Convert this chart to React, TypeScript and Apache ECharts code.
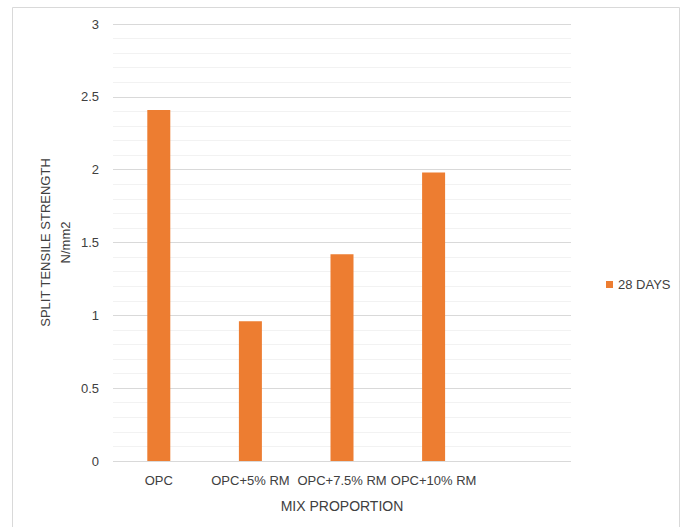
import React, { useEffect, useRef } from "react";
import * as echarts from "echarts";

const categories = ["OPC", "OPC+5% RM", "OPC+7.5% RM", "OPC+10% RM", ""];
const values28Days = [2.41, 0.96, 1.42, 1.98, null];
const seriesName = "28 DAYS";
const yMin = 0;
const yMax = 3;
const yInterval = 0.5;

export default function App() {
  const ref = useRef<HTMLDivElement>(null);
  useEffect(() => {
    if (!ref.current) return;
    const chart = echarts.init(ref.current, null, { renderer: "svg" });
    const font = "'Liberation Sans', 'Open Sans', sans-serif";
    chart.setOption({
      animation: false,
      textStyle: { fontFamily: font },
      graphic: [
        {
          type: "rect",
          shape: { x: 12.5, y: 7.5, width: 667, height: 530 },
          style: { fill: "none", stroke: "#d9d9d9", lineWidth: 1 },
          silent: true,
        },
      ],
      grid: { left: 113, right: 113, top: 24, bottom: 66, containLabel: false },
      legend: {
        show: true,
        orient: "vertical",
        left: 601,
        top: 273,
        itemWidth: 7,
        itemHeight: 7,
        itemGap: 6,
        icon: "rect",
        textStyle: { fontSize: 13, color: "#404040", fontFamily: font },
        data: [seriesName],
      },
      xAxis: {
        type: "category",
        data: categories,
        axisLine: { show: false },
        axisTick: { show: false },
        axisLabel: { color: "#404040", fontSize: 13, margin: 13, interval: 0, fontFamily: font },
        name: "MIX PROPORTION",
        nameLocation: "middle",
        nameGap: 38,
        nameMoveOverlap: false,
        nameTextStyle: { color: "#404040", fontSize: 14, fontFamily: font },
      },
      yAxis: {
        type: "value",
        min: yMin,
        max: yMax,
        interval: yInterval,
        axisLine: { show: false },
        axisTick: { show: false },
        axisLabel: { color: "#404040", fontSize: 13, margin: 14, fontFamily: font },
        splitLine: { show: true, lineStyle: { color: "#d9d9d9", width: 1 } },
        minorTick: { show: false, splitNumber: 5 },
        minorSplitLine: { show: true, lineStyle: { color: "#f2f2f2", width: 1 } },
        name: "SPLIT TENSILE STRENGTH\nN/mm2",
        nameLocation: "middle",
        nameRotate: 90,
        nameGap: 38,
        nameMoveOverlap: false,
        nameTextStyle: { color: "#404040", fontSize: 13, lineHeight: 20, align: "center", fontFamily: font },
      },
      series: [
        {
          name: seriesName,
          type: "bar",
          data: values28Days,
          barWidth: 23,
          itemStyle: { color: "#ED7D31" },
        },
      ],
    });
    return () => chart.dispose();
  }, []);
  return (
    <div
      ref={ref}
      style={{ position: "fixed", left: 0, top: 0, width: 684, height: 527, background: "#fff" }}
    />
  );
}
